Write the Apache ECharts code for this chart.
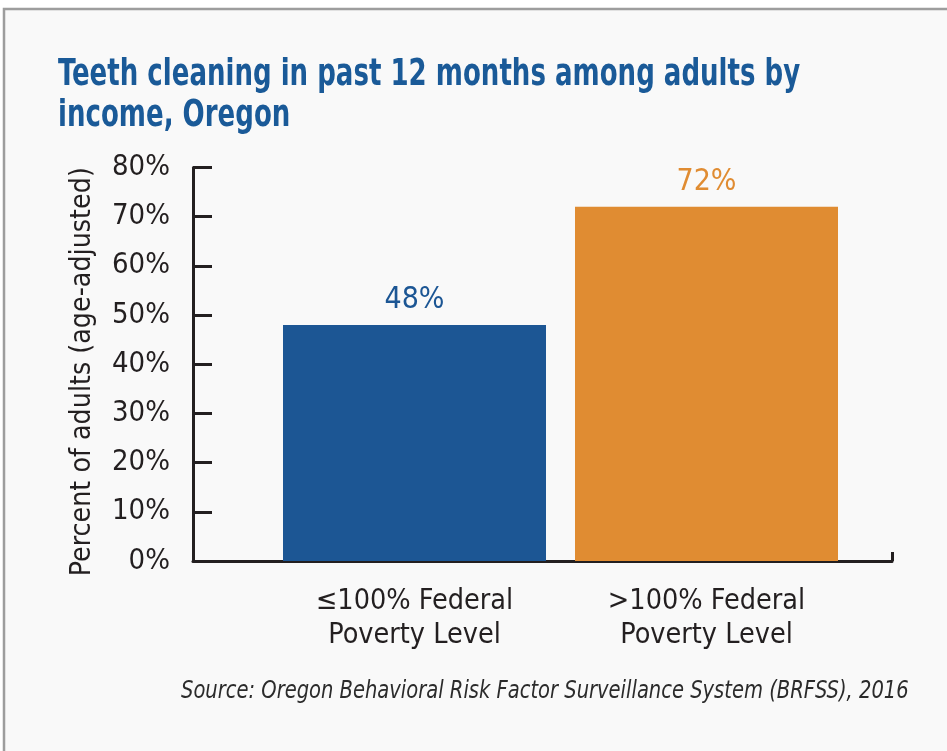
<!DOCTYPE html>
<html>
<head>
<meta charset="utf-8">
<script src="https://cdn.jsdelivr.net/npm/echarts@6/dist/echarts.min.js"></script>
<style>
html,body{margin:0;padding:0;background:#fff;}
#c{width:947px;height:751px;}
</style>
</head>
<body>
<div id="c"></div>
<script>
const categories = ['≤100% Federal\nPoverty Level', '>100% Federal\nPoverty Level'];
const values = [48, 72];
const barColors = ['#1c5694', '#e08c32'];
const yTicks = [0, 10, 20, 30, 40, 50, 60, 70, 80];
const titleText = 'Teeth cleaning in past 12 months among adults by\nincome, Oregon';
const sourceText = 'Source: Oregon Behavioral Risk Factor Surveillance System (BRFSS), 2016';
const yName = 'Percent of adults (age-adjusted)';

const FONT = '"Liberation Sans Narrow", "DejaVu Sans Condensed", Arial, sans-serif';
const chart = echarts.init(document.getElementById('c'));
const AX = '#231f20';
chart.setOption({
  backgroundColor: '#ffffff',
  animation: false,
  graphic: [
    { type: 'rect', z: -10, shape: { x: 4, y: 9, width: 1000, height: 800 },
      style: { fill: '#f9f9f9', stroke: '#9d9d9d', lineWidth: 2.5 } },
    { type: 'text', x: 58, y: 55, scaleX: 0.762, style: {
      text: titleText, fontFamily: FONT, fontWeight: 'bold', fontSize: 38,
      lineHeight: 41, fill: '#1a5a98' } },
    { type: 'text', x: 181, y: 691, scaleX: 0.868, style: {
      text: sourceText, fontFamily: FONT, fontStyle: 'italic', fontSize: 25,
      fill: '#2b2b2b', verticalAlign: 'middle' } }
  ],
  grid: [
    { left: 193, right: 55, top: 167.5, bottom: 190 },
    { left: 268.5, right: 94.5, top: 167.5, bottom: 190 }
  ],
  xAxis: [
    { type: 'value', gridIndex: 0, min: 0, max: 1, interval: 1,
      axisLine: { show: true, lineStyle: { color: AX, width: 3 } },
      axisTick: { show: true, inside: true, length: 9, lineStyle: { color: AX, width: 3 } },
      axisLabel: { show: false }, splitLine: { show: false } },
    { type: 'category', gridIndex: 1, data: categories,
      axisLine: { show: false }, axisTick: { show: false },
      axisLabel: { fontFamily: FONT, fontSize: 28.5, color: '#231f20', lineHeight: 34, margin: 24 } }
  ],
  yAxis: [
    { type: 'value', gridIndex: 0, min: 0, max: 80, interval: 10,
      name: yName, nameLocation: 'middle', nameGap: 96,
      nameTextStyle: { fontFamily: FONT, fontSize: 28.3, color: '#231f20', padding: [0, 15, 0, 0] },
      axisLine: { show: true, lineStyle: { color: AX, width: 3 } },
      axisTick: { show: true, inside: true, length: 19, lineStyle: { color: AX, width: 3 } },
      axisLabel: { formatter: '{value}%', fontFamily: FONT, fontSize: 29, color: '#231f20', margin: 23 },
      splitLine: { show: false } },
    { type: 'value', gridIndex: 1, min: 0, max: 80, interval: 10, show: false }
  ],
  series: [{
    type: 'bar', xAxisIndex: 1, yAxisIndex: 1, barWidth: 263, z: 1,
    data: values.map((v, i) => ({ value: v, itemStyle: { color: barColors[i] },
      label: { color: barColors[i] } })),
    label: { show: true, position: 'top', distance: 10, formatter: '{c}%',
      fontFamily: FONT, fontSize: 30 }
  }]
});
</script>
</body>
</html>
